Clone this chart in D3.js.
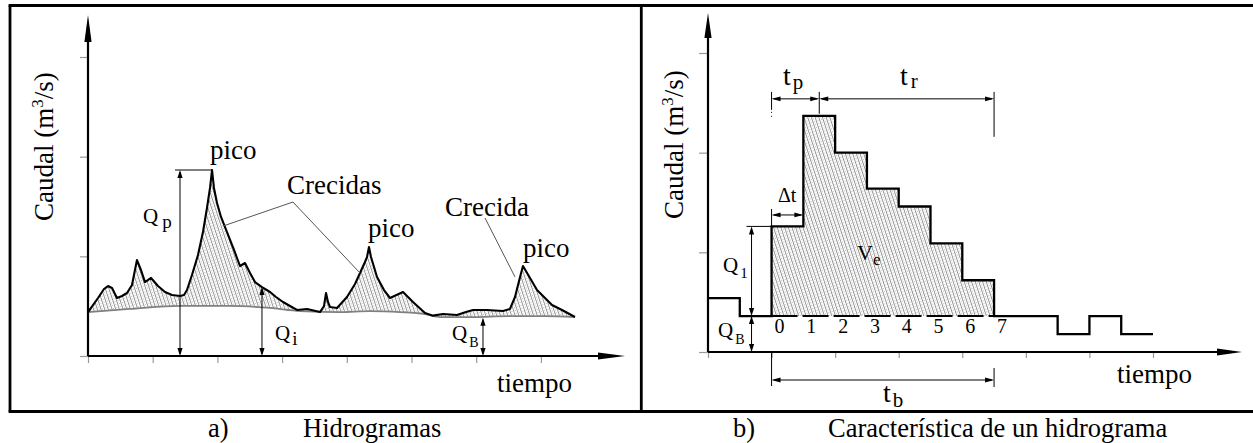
<!DOCTYPE html>
<html><head><meta charset="utf-8">
<script src="https://cdn.jsdelivr.net/npm/d3@7"></script>
<style>
body{margin:0;background:#fff}
svg text{font-family:"Liberation Serif","Times New Roman",Times,serif;fill:#000}
</style>
</head><body><svg id="c" width="1253" height="443" font-family="Liberation Serif, Times New Roman, serif"></svg>
<script>
// ---------- Panel a: Hidrogramas ----------
const timeA = [0,0.155,0.247,0.309,0.371,0.448,0.526,0.603,0.680,0.726,0.757,0.819,0.881,0.974,1.082,1.190,1.298,1.422,1.484,1.530,1.607,1.700,1.777,1.839,1.886,1.917,1.947,1.994,2.056,2.148,2.257,2.349,2.427,2.504,2.581,2.689,2.813,2.906,3.014,3.122,3.230,3.385,3.586,3.648,3.679,3.709,3.740,3.849,4.003,4.127,4.204,4.281,4.312,4.343,4.374,4.467,4.575,4.668,4.869,5.023,5.209,5.332,5.487,5.703,5.842,5.951,6.167,6.414,6.522,6.600,6.662,6.723,6.832,6.940,7.172,7.326,7.527];
const flowA = [0.441,0.582,0.672,0.702,0.682,0.582,0.602,0.632,0.712,0.863,0.963,0.863,0.742,0.783,0.702,0.642,0.612,0.602,0.612,0.662,0.813,1.013,1.244,1.485,1.686,1.866,1.686,1.535,1.395,1.244,1.064,0.903,0.933,0.833,0.742,0.692,0.642,0.592,0.542,0.502,0.462,0.472,0.441,0.502,0.632,0.542,0.492,0.482,0.592,0.722,0.833,0.943,0.993,1.094,0.993,0.793,0.662,0.582,0.642,0.542,0.431,0.405,0.421,0.411,0.441,0.462,0.462,0.451,0.472,0.592,0.753,0.903,0.783,0.662,0.512,0.462,0.391];
const baseTimeA = [0,0.649,1.422,2.195,2.813,3.277,3.895,4.359,4.822,5.209,5.440,5.904,6.522,7.063,7.527];
const baseFlowA = [0.441,0.472,0.502,0.502,0.482,0.451,0.441,0.451,0.441,0.421,0.391,0.391,0.401,0.401,0.391];
const xTicksA = [0,1,2,3,4,5,6,7];
const yTicksA = [0,1,2,3];

// ---------- Panel b: Característica de un hidrograma ----------
const stepT = [-2,-1,0,1,2,3,4,5,6,7,9,10,11,12];
const stepQ = [5.4,3.6,12.6,23.7,20.0,16.4,14.6,10.9,7.2,3.6,1.8,3.6,1.8,1.8];
const baseFlowB = 3.6;
const stepLabels = ["0","1","2","3","4","5","6","7"];
const xTicksB = [-2,0,2,4,6,8,10,12];
const yTicksB = [0,10,20,30];

const svg = d3.select("#c");
const FONT = 27;

// hatch pattern
const defs = svg.append("defs");
const pat = defs.append("pattern").attr("id","hatch").attr("patternUnits","userSpaceOnUse")
  .attr("width",3.5).attr("height",6).attr("patternTransform","rotate(-18)");
pat.append("line").attr("x1",0.5).attr("x2",0.5).attr("y1",0).attr("y2",6).attr("stroke","#4a4a4a").attr("stroke-width",0.6);
pat.append("circle").attr("cx",2.2).attr("cy",1.5).attr("r",0.4).attr("fill","#777");
pat.append("circle").attr("cx",2.2).attr("cy",4.5).attr("r",0.4).attr("fill","#777");

// frame
const frame = svg.append("g").attr("stroke","#000").attr("stroke-width",2.8);
frame.append("line").attr("x1",8.6).attr("x2",1253).attr("y1",5.5).attr("y2",5.5);
frame.append("line").attr("x1",8.6).attr("x2",1253).attr("y1",411.5).attr("y2",411.5);
frame.append("line").attr("x1",10).attr("x2",10).attr("y1",5.5).attr("y2",411.5);
frame.append("line").attr("x1",641.3).attr("x2",641.3).attr("y1",5.5).attr("y2",411.5);

function head(g, x, y, dir, len, hw){
  let p;
  if(dir==="up") p=[[x,y],[x-hw,y+len],[x+hw,y+len]];
  if(dir==="down") p=[[x,y],[x-hw,y-len],[x+hw,y-len]];
  if(dir==="left") p=[[x,y],[x+len,y-hw],[x+len,y+hw]];
  if(dir==="right") p=[[x,y],[x-len,y-hw],[x-len,y+hw]];
  g.append("path").attr("d","M"+p.map(d=>d.join(",")).join("L")+"Z").attr("fill","#000");
}
function line(g,x1,y1,x2,y2,w,c){
  return g.append("line").attr("x1",x1).attr("y1",y1).attr("x2",x2).attr("y2",y2)
    .attr("stroke",c||"#000").attr("stroke-width",w||1);
}
function dimV(g,x,yTop,yBot){
  line(g,x,yTop+2,x,yBot-2,1);
  head(g,x,yTop,"up",8,2.6);
  head(g,x,yBot,"down",8,2.6);
}
function dimH(g,y,xL,xR,left=true,right=true){
  line(g,xL+2,y,xR-2,y,1);
  if(left) head(g,xL,y,"left",9,2.4);
  if(right) head(g,xR,y,"right",9,2.4);
}
function subText(g,x,y,main,sub,fs,fsub,dx,dy){
  const t=g.append("text").attr("x",x).attr("y",y).attr("font-size",fs);
  t.append("tspan").text(main);
  t.append("tspan").attr("font-size",fsub).attr("dx",dx).attr("dy",dy).text(sub);
}
function ylabel(g,x,y){
  const t=g.append("text").attr("transform",`translate(${x},${y}) rotate(-90)`).attr("font-size",FONT);
  t.append("tspan").text("Caudal (m");
  t.append("tspan").attr("font-size",17).attr("dy",-10).text("3");
  t.append("tspan").attr("dy",10).text("/s)");
}

// ================= Panel a =================
const xA = d3.scaleLinear().domain([0,8.3]).range([88,625]);
const yA = d3.scaleLinear().domain([0,3]).range([356,57]);
const ga = svg.append("g");

const curveA = timeA.map((t,i)=>[t,flowA[i]]);
const baseA = baseTimeA.map((t,i)=>[t,baseFlowA[i]]);
const lnA = d3.line().x(d=>xA(d[0])).y(d=>yA(d[1]));
ga.append("path").attr("d", lnA(curveA.concat(baseA.slice().reverse()))+"Z")
  .attr("fill","url(#hatch)").attr("stroke","none");
ga.append("path").attr("d",lnA.curve(d3.curveMonotoneX)(baseA)).attr("fill","none")
  .attr("stroke","#808080").attr("stroke-width",1.8);
lnA.curve(d3.curveLinear);
ga.append("path").attr("d",lnA(curveA)).attr("fill","none").attr("stroke","#000")
  .attr("stroke-width",2.1).attr("stroke-linejoin","round");

// axes ticks
const axYa = ga.append("g").attr("transform",`translate(${xA(0)},0)`)
  .call(d3.axisLeft(yA).tickValues(yTicksA).tickSize(8).tickFormat(""));
axYa.select(".domain").remove();
axYa.selectAll(".tick line").attr("stroke","#999").attr("stroke-width",1.2);
const axXa = ga.append("g").attr("transform",`translate(0,${yA(0)})`)
  .call(d3.axisBottom(xA).tickValues(xTicksA).tickSize(7).tickFormat(""));
axXa.select(".domain").remove();
axXa.selectAll(".tick line").attr("stroke","#999").attr("stroke-width",1.2);
// axis lines with arrows
line(ga,xA(0),yA(0),xA(0),40,2.2);
head(ga,xA(0),15,"up",27,3.6);
line(ga,xA(0),yA(0),600,yA(0),2.2);
head(ga,625,yA(0),"right",27,3.6);

// Qp
const pkI = flowA.indexOf(d3.max(flowA));
const qpX = xA(1.422);
line(ga,175,yA(flowA[pkI]),xA(timeA[pkI]),yA(flowA[pkI]),1.2);
dimV(ga,qpX,yA(flowA[pkI]),yA(0));
subText(ga,143,223,"Q","p",21,19,4,5);
// Qi
const qiI = timeA.indexOf(2.689);
dimV(ga,xA(timeA[qiI]),yA(flowA[qiI]),yA(0));
subText(ga,275,340,"Q","i",21,19,2,5);
// QB
dimV(ga,xA(6.105),yA(0.385),yA(0));
subText(ga,452,340,"Q","B",21,14,2,7);

// leader lines
const lead = [[[3.168,1.545],[2.087,1.304]],[[3.168,1.545],[4.204,0.833]],[[6.136,1.385],[6.600,0.793]]];
lead.forEach(s=>line(ga,xA(s[0][0]),yA(s[0][1]),xA(s[1][0]),yA(s[1][1]),1,"#555"));

// labels
const lab=(g,x,y,s,fs)=>g.append("text").attr("x",x).attr("y",y).attr("font-size",fs||FONT).text(s);
lab(ga,210,159,"pico");
lab(ga,287,194,"Crecidas");
lab(ga,368,237,"pico");
lab(ga,445,216,"Crecida");
lab(ga,523,257,"pico");
lab(ga,497,392,"tiempo");
ylabel(ga,53,221);
lab(ga,208,437,"a)",26.5);
lab(ga,303,437,"Hidrogramas",26.5);

// ================= Panel b =================
const xB = d3.scaleLinear().domain([-2,12]).range([708,1153]);
const yB = d3.scaleLinear().domain([0,30]).range([352,53]);
const gb = svg.append("g");

// hatched area t in [0,7]
const areaPts = [];
stepT.forEach((t,i)=>{ if(t>=0 && t<7) areaPts.push([t,stepQ[i]]); });
areaPts.push([7, areaPts[areaPts.length-1][1]]);
gb.append("path").attr("d", d3.area().x(d=>xB(d[0])).y0(yB(baseFlowB)).y1(d=>yB(d[1])).curve(d3.curveStepAfter)(areaPts))
  .attr("fill","url(#hatch)");
// dashed base under area
gb.append("line").attr("x1",xB(0)).attr("x2",xB(7)).attr("y1",yB(baseFlowB)).attr("y2",yB(baseFlowB))
  .attr("stroke","#000").attr("stroke-width",2).attr("stroke-dasharray","26,5");
// step line
const stepPts = stepT.map((t,i)=>[t,stepQ[i]]);
gb.append("path").attr("d", d3.line().x(d=>xB(d[0])).y(d=>yB(d[1])).curve(d3.curveStepAfter)(stepPts))
  .attr("fill","none").attr("stroke","#000").attr("stroke-width",2.3);

// axes
const axYb = gb.append("g").attr("transform",`translate(${xB(-2)},0)`)
  .call(d3.axisLeft(yB).tickValues(yTicksB).tickSize(9).tickFormat(""));
axYb.select(".domain").remove();
axYb.selectAll(".tick line").attr("stroke","#999").attr("stroke-width",1.2);
const axXb = gb.append("g").attr("transform",`translate(0,${yB(0)})`)
  .call(d3.axisBottom(xB).tickValues(xTicksB).tickSize(6).tickFormat(""));
axXb.select(".domain").remove();
axXb.selectAll(".tick line").attr("stroke","#999").attr("stroke-width",1.2);
line(gb,xB(-2),yB(0),xB(-2),36,2.2);
head(gb,xB(-2),13,"up",25,3.6);
line(gb,xB(-2),yB(0),1218,yB(0),2.2);
head(gb,1242,yB(0),"right",25,3.6);

// step numbers
stepLabels.forEach((s,i)=>gb.append("text").attr("x",xB(i)+3).attr("y",333).attr("font-size",20).text(s));

// tp / tr dimension
const dY = yB(25.4);
const peakIdx = stepQ.indexOf(d3.max(stepQ));
const tPk = stepT[peakIdx]+0.5;
line(gb,xB(0),dY-7,xB(0),dY+11,1);
gb.append("line").attr("x1",xB(0)).attr("x2",xB(0)).attr("y1",dY+13).attr("y2",dY+19).attr("stroke","#000").attr("stroke-width",1).attr("stroke-dasharray","1,3");
line(gb,xB(tPk),dY-7,xB(tPk),yB(stepQ[peakIdx])-2,1);
line(gb,xB(7),dY-7,xB(7),dY+38,1);
dimH(gb,dY,xB(0),xB(tPk));
dimH(gb,dY,xB(tPk),xB(7));
subText(gb,783,85,"t","p",28,21,2,4);
subText(gb,900,85,"t","r",28,21,3,3);

// Δt
const dtY = yB(13.75);
line(gb,xB(0),dtY-6,xB(0),yB(stepQ[2]),1);
dimH(gb,dtY,xB(0),xB(1));
lab(gb,778,202,"Δt",20);

// Q1
const q1X = xB(-0.63);
line(gb,q1X-5,yB(stepQ[2]),xB(0),yB(stepQ[2]),1);
dimV(gb,q1X,yB(stepQ[2]),yB(baseFlowB));
subText(gb,723,272,"Q","1",21,15,2,6);
// QB
dimV(gb,q1X,yB(baseFlowB),yB(0));
subText(gb,718,337,"Q","B",21,14,2,7);

// Ve
subText(gb,857,260,"V","e",22,17,0,5);

// tb
const tbY = 380;
line(gb,xB(0),yB(0)+1,xB(0),tbY+6,1);
line(gb,xB(7),yB(0)+16,xB(7),tbY+7,1);
dimH(gb,tbY,xB(0),xB(7));
subText(gb,883,402,"t","b",28,21,2,5);

lab(gb,1117,383,"tiempo");
ylabel(gb,683,219);
lab(gb,733,437,"b)",26.5);
lab(gb,828,437,"Característica de un hidrograma",26.5);
</script>
</body></html>
